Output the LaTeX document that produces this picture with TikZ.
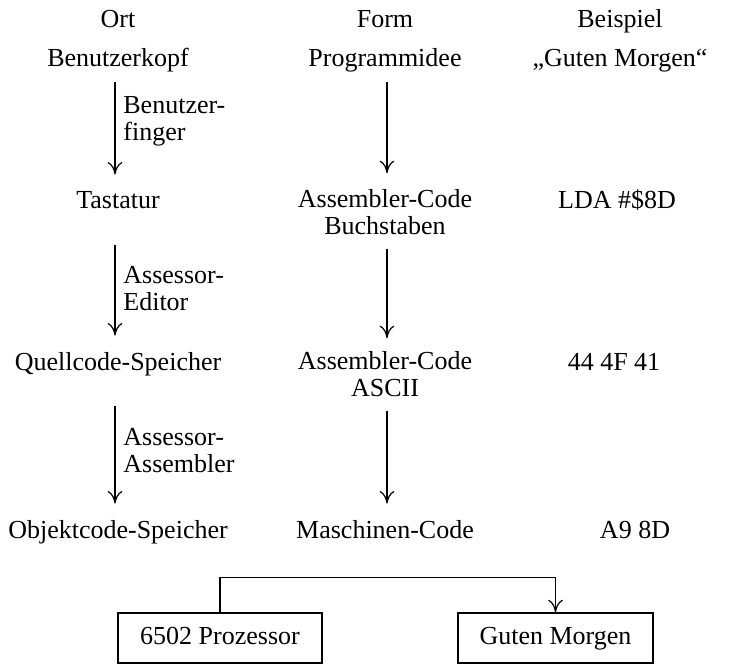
\documentclass[tikz,border=0pt]{standalone}
\usepackage{fontspec}
\setmainfont{Liberation Serif}
\usetikzlibrary{arrows.meta, positioning}

\begin{document}
\begin{tikzpicture}[x=0.5pt, y=0.5pt,
  txt/.style={anchor=base, inner sep=0pt, align=center, font=\fontsize{13}{13.2}\selectfont},
  lbl/.style={anchor=base west, inner sep=0pt, align=left, font=\fontsize{13}{13.5}\selectfont},
  flow/.style={-{To[length=2.2mm, width=2.6mm]}, line width=0.6pt, shorten <=5pt, shorten >=8pt},
  box/.style={draw, line width=0.7pt, inner sep=0pt, minimum height=25pt, text height=9pt, text depth=2.8pt, font=\fontsize{13}{13.2}\selectfont}]
\def\xL{118}
\def\xM{385}
\def\xR{620}

\useasboundingbox (0,0) rectangle (750,-665);

% column heads
\node[txt] (ort)  at (\xL,-27) {Ort};
\node[txt] (form) at (\xM,-27) {Form};
\node[txt] (bsp)  at (\xR,-27) {Beispiel};

% rows (two-line nodes sit on their last line)
\node[txt] (kopf) at (\xL,-66) {Benutzerkopf};
\node[txt] (idee) at (\xM,-66) {Programmidee};
\node[txt] (gm1)  at (\xR,-66) {„Guten Morgen“};

\node[txt] (tast) at (\xL,-208) {Tastatur};
\node[txt] (asmb) at (\xM,-234) {Assembler-Code\\Buchstaben};
\node[txt] (lda)  at (617,-208) {LDA \#\$8D};

\node[txt] (quell) at (\xL,-370) {Quellcode-Speicher};
\node[txt] (asma)  at (\xM,-396) {Assembler-Code\\ASCII};
\node[txt] (hexa)  at (614,-370) {44 4F 41};

\node[txt] (obj)  at (\xL,-538) {Objektcode-Speicher};
\node[txt] (masch) at (\xM,-538) {Maschinen-Code};
\node[txt] (hexm) at (635,-538) {A9 8D};

% arrows
\draw[flow] ([xshift=-1.5pt]kopf.south) -- ([xshift=-1.5pt]tast.north);
\draw[flow, shorten <=18pt] ([xshift=-1.5pt]tast.south) -- ([xshift=-1.5pt]quell.north);
\draw[flow, shorten <=15pt] ([xshift=-1.5pt]quell.south) -- ([xshift=-1.5pt]obj.north);

\draw[flow] ([xshift=1pt]idee.south) -- ([xshift=1pt]asmb.north);
\draw[flow, shorten <=7pt, shorten >=6.5pt] ([xshift=1pt]asmb.south) -- ([xshift=1pt]asma.north);
\draw[flow, shorten <=7pt] ([xshift=1pt]asma.south) -- ([xshift=1pt]masch.north);

% arrow labels
\node[lbl] (finger) at (123,-140) {Benutzer-\\finger};
\node[lbl] (edit)   at (123,-310) {Assessor-\\Editor};
\node[lbl] (assem)  at (123,-472) {Assessor-\\Assembler};

% bottom
\node[box, minimum width=102pt] (proz) at (220,-638) {6502 Prozessor};
\node[box, minimum width=97.5pt] (gm2) at (555.5,-638) {Guten Morgen};
\draw[-{To[length=2.2mm, width=2.6mm]}, line width=0.6pt] (proz.north) -- ++(0,35) -| (gm2.north);
\end{tikzpicture}
\end{document}
